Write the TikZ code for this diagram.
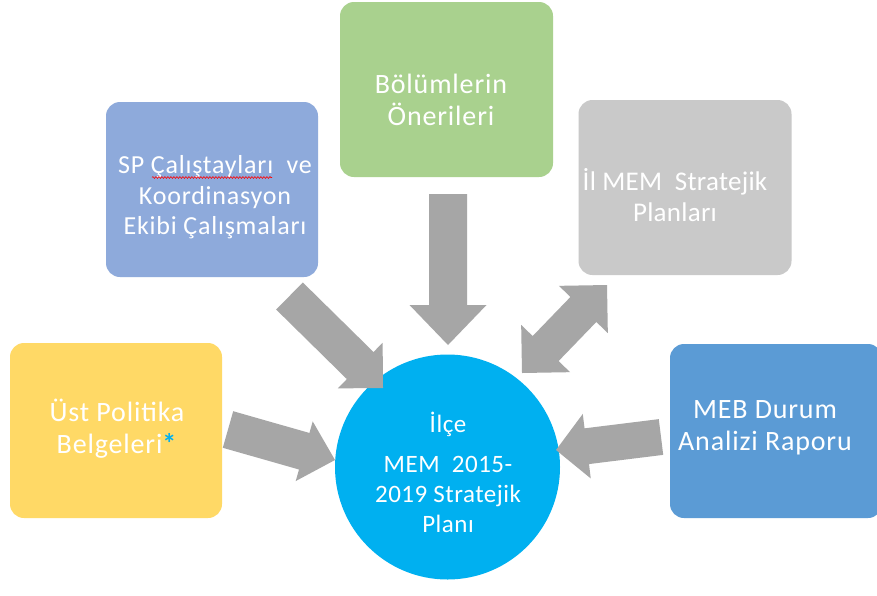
\documentclass[tikz,border=0pt]{standalone}
\usepackage{fontspec}
\setmainfont{Carlito}
\usetikzlibrary{calc,decorations.pathmorphing}
\definecolor{boxyellow}{HTML}{FFD966}
\definecolor{boxlblue}{HTML}{8EAADB}
\definecolor{boxgreen}{HTML}{A9D18E}
\definecolor{boxgray}{HTML}{C9C9C9}
\definecolor{boxblue}{HTML}{5B9BD5}
\definecolor{circblue}{HTML}{00B0F0}
\definecolor{arrowgray}{HTML}{A6A6A6}
\newcommand\blockarrow[5]{%
  \coordinate (#1-hb) at ($(#2)!#3!(#1)$);
  \fill[arrowgray] ($(#1)!#4!90:(#2)$) -- ($(#1-hb)!#4!90:(#2)$) -- ($(#1-hb)!#5!90:(#2)$) -- (#2)
    -- ($(#1-hb)!#5!-90:(#2)$) -- ($(#1-hb)!#4!-90:(#2)$) -- ($(#1)!#4!-90:(#2)$) -- cycle;}
\newcommand\dblarrow[5]{%
  \coordinate (#1-ha) at ($(#1)!#3!(#2)$);
  \coordinate (#1-hb) at ($(#2)!#3!(#1)$);
  \fill[arrowgray] (#1) -- ($(#1-ha)!#5!90:(#2)$) -- ($(#1-ha)!#4!90:(#2)$) -- ($(#1-hb)!#4!90:(#2)$)
    -- ($(#1-hb)!#5!90:(#2)$) -- (#2) -- ($(#1-hb)!#5!-90:(#2)$) -- ($(#1-hb)!#4!-90:(#2)$)
    -- ($(#1-ha)!#4!-90:(#2)$) -- ($(#1-ha)!#5!-90:(#2)$) -- cycle;}
\begin{document}
\begin{tikzpicture}[x=1pt,y=-1pt,
  box/.style={rounded corners=14pt, inner sep=0pt, draw=none},
  boxtext/.style={text=white, align=center, inner sep=0pt, font=\fontsize{28}{32}\selectfont\addfontfeatures{LetterSpace=3}},
  sptext/.style={boxtext, font=\fontsize{26}{30.5}\selectfont\addfontfeatures{LetterSpace=3}},
  iltext/.style={boxtext, font=\fontsize{27}{31}\selectfont\addfontfeatures{LetterSpace=1}},
  circtext/.style={text=white, align=center, inner sep=0pt, font=\fontsize{25}{30}\selectfont\addfontfeatures{LetterSpace=2}}]
\useasboundingbox (0,0) rectangle (877,595);
\fill[white] (0,0) rectangle (877,595);
% boxes
\node[box, fill=boxyellow, minimum width=212pt, minimum height=175pt] (ust) at (116,430.5) {};
\node[box, fill=boxlblue, minimum width=212pt, minimum height=175pt] (sp) at (212,189.5) {};
\node[box, fill=boxgreen, minimum width=213pt, minimum height=175pt] (bol) at (446.5,89.5) {};
\node[box, fill=boxgray, minimum width=213pt, minimum height=175pt] (il) at (685,187.5) {};
\node[box, fill=boxblue, minimum width=212pt, minimum height=174pt] (meb) at (776,431) {};
\node[circle, fill=circblue, minimum size=225pt, inner sep=0pt] (plan) at (447.5,467) {};
% texts
\node[boxtext] (ust-t) at (117,429) {Üst Politika\\Belgeleri{\color{circblue}\textbf{*}}};
\node[sptext] (sp-t) at (215,197.5) {SP Çalıştayları\ \ ve\\Koordinasyon\\Ekibi Çalışmaları};
\node[boxtext] (bol-t) at (441,99.5) {Bölümlerin\\Önerileri};
\node[iltext] (il-t) at (675,195.5) {İl MEM\ \ Stratejik\\Planları};
\node[boxtext] (meb-t) at (765,427.5) {MEB Durum\\Analizi Raporu};
\node[circtext] (plan-t) at (448,472) {İlçe\\[10pt]MEM\ \ 2015-\\2019 Stratejik\\Planı};
% spell-check underline
\draw[red, line width=0.6pt, decorate, decoration={snake, amplitude=0.9pt, segment length=3pt}]
  (152,177.5) -- (272,177.5);
% arrows
\coordinate (a1s) at (228,429.5); \coordinate (a1e) at (335,460);
\coordinate (a2s) at (661,437);   \coordinate (a2e) at (556,450);
\coordinate (a3s) at (448,194);   \coordinate (a3e) at (448,345);
\coordinate (a4s) at (289.5,296); \coordinate (a4e) at (383,388);
\coordinate (a5s) at (522,373);   \coordinate (a5e) at (607,285);
\blockarrow{a1s}{a1e}{32pt}{19pt}{31pt}
\blockarrow{a2s}{a2e}{31pt}{18pt}{32.5pt}
\blockarrow{a3s}{a3e}{40pt}{19pt}{38.5pt}
\blockarrow{a4s}{a4e}{32pt}{19pt}{32pt}
\dblarrow{a5s}{a5e}{34pt}{18pt}{34pt}
\end{tikzpicture}
\end{document}
